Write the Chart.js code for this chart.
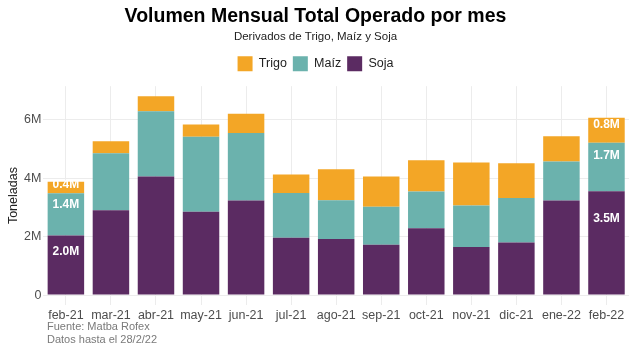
<!DOCTYPE html>
<html>
<head>
<meta charset="utf-8">
<script src="https://cdn.jsdelivr.net/npm/chart.js@4"></script>
<style>
  html, body { margin: 0; padding: 0; background: #ffffff; }
  #wrap { width: 642px; height: 354px; }
</style>
</head>
<body>
<div id="wrap"><canvas id="volChart" width="642" height="354"></canvas></div>
<script>
// Datos (millones de toneladas)
const meses = ['feb-21', 'mar-21', 'abr-21', 'may-21', 'jun-21', 'jul-21', 'ago-21',
               'sep-21', 'oct-21', 'nov-21', 'dic-21', 'ene-22', 'feb-22'];
const soja  = [2.04, 2.90, 4.05, 2.85, 3.23, 1.96, 1.92, 1.72, 2.28, 1.64, 1.80, 3.23, 3.55];
const maiz  = [1.44, 1.95, 2.23, 2.56, 2.31, 1.53, 1.32, 1.30, 1.26, 1.42, 1.52, 1.34, 1.66];
const trigo = [0.39, 0.41, 0.52, 0.42, 0.66, 0.63, 1.06, 1.03, 1.07, 1.47, 1.19, 0.86, 0.85];
const yTicks = [0, 2, 4, 6];
const mesesConEtiqueta = [0, 12];

const FONT = "'Liberation Sans', Arial, sans-serif";

// Etiquetas blancas dentro de las barras del primer y último mes
const etiquetasPlugin = {
    id: 'etiquetas',
    afterDatasetsDraw(chart) {
        const ctx = chart.ctx;
        ctx.save();
        ctx.fillStyle = '#ffffff';
        ctx.font = 'bold 12px ' + FONT;
        ctx.textAlign = 'center';
        ctx.textBaseline = 'middle';
        chart.data.datasets.forEach((ds, di) => {
            const meta = chart.getDatasetMeta(di);
            mesesConEtiqueta.forEach(i => {
                const bar = meta.data[i];
                const h = bar.base - bar.y;
                ctx.fillText(ds.data[i].toFixed(1) + 'M', bar.x, bar.y + h * 0.27);
            });
        });
        ctx.restore();
    }
};

// Nota de fuente al pie
const fuentePlugin = {
    id: 'fuente',
    afterDraw(chart) {
        const ctx = chart.ctx;
        ctx.save();
        ctx.fillStyle = '#7a7a7a';
        ctx.font = '11px ' + FONT;
        ctx.textAlign = 'left';
        ctx.textBaseline = 'middle';
        ctx.fillText('Fuente: Matba Rofex', 47, 327);
        ctx.fillText('Datos hasta el 28/2/22', 47, 340);
        ctx.restore();
    }
};

// Más espacio entre la leyenda y el gráfico
const espacioLeyenda = {
    id: 'espacioLeyenda',
    beforeInit(chart) {
        const fitOrig = chart.legend.fit;
        chart.legend.fit = function () {
            fitOrig.bind(chart.legend)();
            this.height += 5;
        };
    }
};

new Chart(document.getElementById('volChart'), {
    type: 'bar',
    data: {
        labels: meses,
        datasets: [
            { label: 'Soja', data: soja, backgroundColor: '#5b2b62' },
            { label: 'Maíz', data: maiz, backgroundColor: '#6bb2ad' },
            { label: 'Trigo', data: trigo, backgroundColor: '#f3a626' }
        ]
    },
    options: {
        responsive: false,
        animation: false,
        layout: { padding: { left: 2, right: 13, top: 0, bottom: 28 } },
        datasets: { bar: { barPercentage: 0.81, categoryPercentage: 1 } },
        plugins: {
            title: {
                display: true,
                text: 'Volumen Mensual Total Operado por mes',
                color: '#000000',
                font: { family: FONT, size: 19.5, weight: 'bold' },
                padding: { top: 5, bottom: 0 }
            },
            subtitle: {
                display: true,
                text: 'Derivados de Trigo, Maíz y Soja',
                color: '#222222',
                font: { family: FONT, size: 11.5 },
                padding: { top: 2, bottom: 6 }
            },
            legend: {
                reverse: true,
                labels: {
                    color: '#222222',
                    font: { family: FONT, size: 12.5 },
                    boxWidth: 15,
                    boxHeight: 15,
                    padding: 6
                }
            },
            tooltip: { enabled: false }
        },
        scales: {
            x: {
                stacked: true,
                grid: { color: '#ececec', offset: false, drawTicks: false },
                border: { display: false },
                ticks: {
                    color: '#4d4d4d',
                    font: { family: FONT, size: 12.5 },
                    padding: 3,
                    maxRotation: 0,
                    autoSkip: false
                }
            },
            y: {
                stacked: true,
                min: -0.34,
                max: 7.14,
                afterBuildTicks: axis => { axis.ticks = yTicks.map(v => ({ value: v })); },
                grid: { color: '#ececec', drawTicks: false },
                border: { display: false },
                ticks: {
                    color: '#4d4d4d',
                    font: { family: FONT, size: 12.5 },
                    padding: 2,
                    callback: v => v === 0 ? '0' : v + 'M'
                },
                title: {
                    display: true,
                    text: 'Toneladas',
                    color: '#222222',
                    font: { family: FONT, size: 12.5 },
                    padding: { top: 4, bottom: 1 }
                }
            }
        }
    },
    plugins: [etiquetasPlugin, fuentePlugin, espacioLeyenda]
});
</script>
</body>
</html>
